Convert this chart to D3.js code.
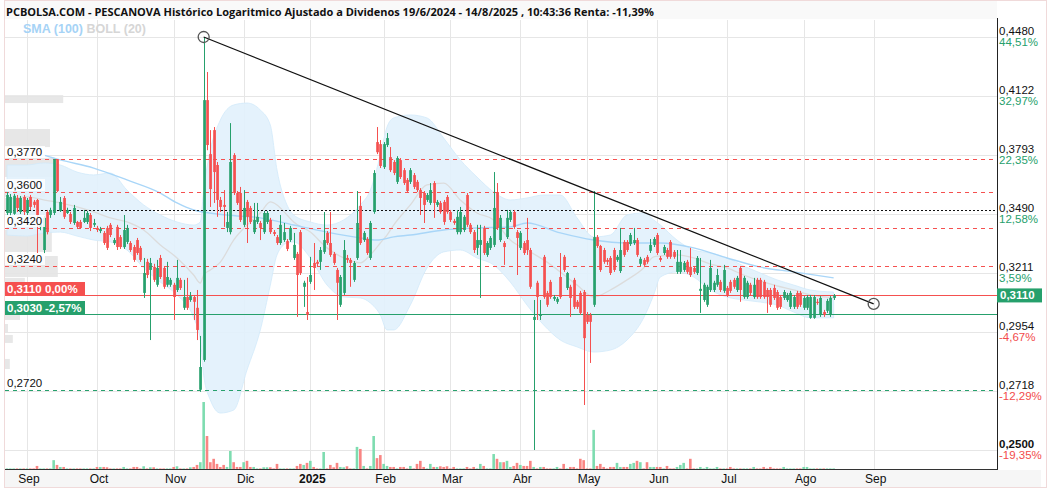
<!DOCTYPE html>
<html><head><meta charset="utf-8">
<script src="https://cdn.jsdelivr.net/npm/d3@7"></script>
<style>
body{margin:0;background:#fff;}
svg{display:block;font-family:"Liberation Sans",Arial,sans-serif;}
</style>
</head><body>
<svg id="c" width="1051" height="492"></svg>
<script>
const titleText = "PCBOLSA.COM - PESCANOVA Histórico Logaritmico Ajustado a Dividenos 19/6/2024 - 14/8/2025 , 10:43:36 Renta: -11,39%";
const firstDay = "2024-08-23";
const lastCalendarDay = "2025-11-28";
const holidays = ["2024-12-25","2024-12-26","2025-01-01","2025-04-18","2025-04-21","2025-05-01"];

// daily candles, one per trading day starting at firstDay
const open = [
.3494,.3494,.3490,.3569,.3499,.3574,.3494,.3574,.3550,.3559,
.3426,.3316,.3499,.3484,.3494,.3770,.3504,.3569,.3494,.3489,
.3445,.3450,.3450,.3450,.3450,.3484,.3436,.3421,.3406,.3397,
.3421,.3436,.3349,.3426,.3377,.3330,.3354,.3349,.3330,.3363,
.3326,.3121,.3261,.3224,.3238,.3157,.3279,.3233,.3157,.3157,
.3157,.3134,.3179,.3056,.3103,.3090,.3103,.3056,.2722,.2839,
.4098,.3797,.3928,.3739,.3559,.3534,.3421,.3401,.3792,.3594,
.3594,.3436,.3549,.3519,.3401,.3450,.3445,.3401,.3450,.3460,
.3401,.3377,.3349,.3363,.3358,.3363,.3279,.3298,.3401,.3148,
.3038,.3170,.3256,.3261,.3261,.3307,.3397,.3349,.3298,.3224,
.3069,.3121,.3279,.3270,.3179,.3279,.3529,.3363,.3368,.3279,
.3499,.3862,.3851,.3728,.3846,.3781,.3755,.3651,.3765,.3712,
.3661,.3651,.3686,.3651,.3609,.3594,.3559,.3544,.3645,.3534,
.3544,.3549,.3574,.3499,.3455,.3401,.3401,.3411,.3584,.3436,
.3401,.3326,.3340,.3421,.3293,.3326,.3340,.3599,.3363,.3349,
.3377,.3460,.3499,.3401,.3326,.3349,.3363,.3316,.3004,.3166,
.3021,.3284,.3121,.3170,.3095,.3082,.3192,.3284,.3143,.3148,
.3179,.3082,.3121,.3125,.3026,.3026,.3069,.3377,.3335,.3316,
.3270,.3279,.3316,.3270,.3219,.3354,.3354,.3344,.3349,.3363,
.3252,.3270,.3284,.3312,.3340,.3387,.3279,.3302,.3316,.3354,
.3307,.3215,.3215,.3224,.3261,.3238,.3233,.3210,.3130,.3090,
.3069,.3134,.3134,.3157,.3170,.3130,.3143,.3170,.3179,.3134,
.3233,.3103,.3103,.3157,.3103,.3179,.3179,.3170,.3134,.3134,
.3143,.3125,.3103,.3099,.3090,.3060,.3060,.3121,.3121,.3056,
.3056,.3013,.3013,.3082,.3026,.3038,.3043,.3026,.3099];
const high = [
.3599,.3589,.3590,.3584,.3579,.3584,.3569,.3584,.3559,.3564,
.3455,.3480,.3509,.3520,.3770,.3770,.3574,.3579,.3520,.3499,
.3534,.3455,.3460,.3509,.3504,.3494,.3465,.3431,.3426,.3406,
.3431,.3445,.3373,.3436,.3387,.3484,.3436,.3358,.3340,.3373,
.3335,.3279,.3275,.3279,.3252,.3270,.3293,.3242,.3261,.3188,
.3166,.3270,.3188,.3179,.3188,.3125,.3112,.3134,.2937,.4480,
.4264,.3928,.3945,.3755,.3574,.3609,.3499,.3967,.3802,.3604,
.3625,.3609,.3559,.3529,.3544,.3544,.3455,.3504,.3504,.3470,
.3411,.3387,.3484,.3445,.3368,.3431,.3397,.3307,.3411,.3175,
.3192,.3284,.3349,.3270,.3330,.3499,.3406,.3499,.3307,.3233,
.3201,.3363,.3293,.3279,.3265,.3604,.3579,.3406,.3377,.3455,
.3712,.3945,.3873,.3862,.3912,.3835,.3765,.3786,.3776,.3723,
.3671,.3723,.3697,.3661,.3619,.3604,.3594,.3645,.3655,.3559,
.3554,.3559,.3584,.3509,.3465,.3509,.3524,.3484,.3594,.3445,
.3411,.3436,.3436,.3431,.3358,.3382,.3702,.3645,.3484,.3358,
.3509,.3509,.3509,.3411,.3406,.3358,.3470,.3326,.3090,.3175,
.3090,.3293,.3130,.3179,.3112,.3103,.3302,.3293,.3215,.3157,
.3188,.3090,.3130,.3134,.3038,.3034,.3604,.3387,.3340,.3326,
.3279,.3288,.3326,.3293,.3421,.3363,.3363,.3397,.3421,.3373,
.3284,.3279,.3293,.3368,.3377,.3397,.3288,.3340,.3326,.3363,
.3316,.3316,.3316,.3265,.3270,.3326,.3242,.3288,.3279,.3166,
.3157,.3270,.3175,.3229,.3179,.3247,.3152,.3179,.3188,.3197,
.3242,.3197,.3175,.3166,.3188,.3188,.3188,.3179,.3143,.3143,
.3157,.3134,.3112,.3134,.3121,.3130,.3112,.3130,.3130,.3107,
.3112,.3112,.3112,.3095,.3107,.3047,.3095,.3107,.3116];
const low = [
.3484,.3479,.3485,.3499,.3489,.3484,.3484,.3509,.3520,.3302,
.3410,.3300,.3390,.3470,.3484,.3599,.3499,.3465,.3489,.3440,
.3436,.3416,.3416,.3445,.3440,.3406,.3426,.3401,.3396,.3340,
.3316,.3377,.3340,.3316,.3321,.3321,.3344,.3307,.3261,.3293,
.3261,.3099,.3187,.2920,.3170,.3148,.3183,.3139,.3148,.3148,
.3004,.3125,.3134,.3047,.3047,.3082,.3004,.2920,.2714,.2832,
.3818,.3524,.3544,.3475,.3499,.3426,.3401,.3390,.3584,.3534,
.3450,.3426,.3349,.3440,.3392,.3440,.3363,.3392,.3440,.3392,
.3382,.3340,.3340,.3354,.3311,.3354,.3270,.3017,.3201,.3060,
.3004,.3161,.3134,.3238,.3224,.3298,.3340,.3284,.3247,.3004,
.3060,.3112,.3256,.3148,.3170,.3270,.3340,.3354,.3293,.3270,
.3490,.3797,.3723,.3718,.3835,.3702,.3686,.3640,.3666,.3635,
.3594,.3640,.3614,.3599,.3484,.3445,.3549,.3534,.3470,.3524,
.3490,.3436,.3490,.3450,.3436,.3390,.3390,.3401,.3426,.3392,
.3302,.3293,.3099,.3293,.3284,.3316,.3330,.3411,.3354,.3247,
.3368,.3450,.3416,.3201,.3316,.3293,.3293,.3139,.2500,.3004,
.3004,.3095,.3060,.3095,.3086,.3073,.3095,.3215,.3134,.3017,
.3051,.3051,.3026,.2664,.2987,.2827,.3060,.3326,.3215,.3252,
.3247,.3201,.3215,.3261,.3210,.3284,.3307,.3335,.3340,.3284,
.3242,.3238,.3252,.3302,.3330,.3293,.3261,.3293,.3275,.3275,
.3275,.3206,.3206,.3215,.3206,.3192,.3206,.3201,.3034,.3082,
.3060,.3125,.3125,.3148,.3125,.3121,.3103,.3121,.3139,.3125,
.3082,.3095,.3095,.3112,.3095,.3095,.3095,.3095,.3034,.3060,
.3090,.3047,.3051,.3090,.3082,.3051,.3051,.3051,.3060,.3047,
.3047,.3009,.3009,.3069,.3017,.3017,.3034,.3017,.3090];
const close = [
.3584,.3574,.3580,.3519,.3569,.3499,.3559,.3524,.3534,.3484,
.3440,.3470,.3401,.3509,.3770,.3604,.3549,.3475,.3509,.3450,
.3519,.3426,.3421,.3470,.3494,.3421,.3445,.3411,.3416,.3349,
.3326,.3387,.3363,.3330,.3330,.3411,.3421,.3316,.3270,.3302,
.3270,.3210,.3201,.3256,.3179,.3233,.3192,.3148,.3192,.3179,
.3103,.3188,.3143,.3103,.3056,.3107,.3082,.2962,.2811,.4098,
.3846,.3614,.3702,.3559,.3524,.3524,.3450,.3755,.3594,.3544,
.3460,.3519,.3475,.3450,.3460,.3475,.3421,.3494,.3494,.3401,
.3392,.3349,.3436,.3401,.3321,.3421,.3340,.3201,.3210,.3166,
.3026,.3201,.3233,.3252,.3316,.3363,.3349,.3293,.3256,.3166,
.3192,.3316,.3270,.3256,.3256,.3445,.3349,.3397,.3302,.3445,
.3697,.3807,.3734,.3851,.3884,.3712,.3697,.3776,.3676,.3645,
.3604,.3712,.3625,.3609,.3569,.3534,.3584,.3609,.3544,.3549,
.3499,.3450,.3499,.3460,.3445,.3475,.3499,.3475,.3436,.3401,
.3316,.3363,.3363,.3302,.3349,.3373,.3519,.3421,.3470,.3330,
.3470,.3499,.3426,.3373,.3397,.3302,.3316,.3148,.3017,.3103,
.3026,.3103,.3069,.3103,.3103,.3095,.3103,.3224,.3210,.3099,
.3060,.3060,.3034,.2928,.2996,.2996,.3377,.3335,.3224,.3261,
.3261,.3210,.3224,.3284,.3316,.3293,.3316,.3387,.3363,.3293,
.3275,.3247,.3261,.3340,.3368,.3302,.3270,.3330,.3284,.3284,
.3284,.3261,.3261,.3256,.3215,.3201,.3215,.3279,.3139,.3157,
.3148,.3233,.3166,.3201,.3134,.3224,.3112,.3130,.3148,.3188,
.3134,.3188,.3166,.3121,.3157,.3103,.3103,.3103,.3103,.3069,
.3099,.3056,.3060,.3125,.3112,.3121,.3103,.3060,.3069,.3099,
.3103,.3103,.3103,.3077,.3099,.3026,.3086,.3099,.3110];
const volume = [
8,8,8,8,8,8,8,8,8,45,
8,8,8,8,130,60,30,30,8,8,
8,8,8,8,8,8,8,30,30,30,
25,8,8,8,8,30,8,8,30,30,
8,40,8,25,25,8,8,8,8,8,
30,40,8,8,8,25,30,60,100,985,
485,100,150,75,30,60,30,265,100,30,
30,100,120,30,30,8,8,25,25,25,
8,75,8,8,8,8,8,45,75,60,
90,120,30,8,8,250,8,60,25,90,
30,25,40,8,8,325,295,45,8,45,
485,160,205,75,45,30,30,8,30,30,
8,45,8,75,120,30,8,75,30,30,
40,30,40,8,30,8,8,8,30,8,
30,8,75,45,8,8,220,150,100,100,
120,30,45,90,60,45,45,120,30,8,
30,30,8,8,8,30,8,75,8,30,
30,8,150,130,8,8,575,45,75,30,
8,30,30,90,30,30,30,75,90,120,
100,8,100,30,30,30,30,8,45,8,
8,30,60,90,8,150,8,8,30,8,
30,8,8,30,8,8,8,30,8,8,
8,8,8,8,30,8,8,30,8,30,
8,8,8,30,8,8,8,8,8,30,
30,8,8,8,8,8,8,8,8];

// Bollinger (20) read at trading-day offsets from firstDay
const bollIdx = [0,6,11,16,21,26,31,36,41,46,51,56,58,59,61,64,68,72,76,79,81,84,86,91,96,101,106,109,112,114,116,121,126,131,136,141,146,151,156,161,166,171,176,181,186,191,194,196,201,206,211,216,221,226,231,236,241,248];
const bollUpper = [.3739,.3739,.3750,.3739,.3702,.3687,.3697,.3609,.3534,.3484,.3450,.3435,.3450,.3609,.3819,.3984,.4070,.4081,.4041,.3956,.3713,.3534,.3484,.3450,.3435,.3460,.3534,.3609,.3792,.3945,.3996,.4013,.3996,.3884,.3766,.3676,.3599,.3559,.3569,.3584,.3584,.3470,.3378,.3387,.3484,.3494,.3460,.3435,.3363,.3316,.3302,.3279,.3242,.3210,.3179,.3156,.3134,.3125];
const bollMid = [.3559,.3574,.3559,.3544,.3524,.3499,.3470,.3450,.3411,.3340,.3279,.3201,.3165,.3201,.3224,.3260,.3363,.3435,.3494,.3549,.3534,.3484,.3450,.3401,.3326,.3279,.3256,.3293,.3349,.3387,.3435,.3534,.3635,.3645,.3559,.3494,.3460,.3363,.3316,.3270,.3215,.3156,.3103,.3134,.3179,.3233,.3284,.3288,.3293,.3279,.3251,.3233,.3201,.3174,.3152,.3134,.3112,.3099];
const bollLower = [.3387,.3382,.3397,.3401,.3382,.3363,.3354,.3316,.3233,.3169,.3112,.3013,.2920,.2779,.2683,.2634,.2645,.2799,.2962,.3156,.3293,.3349,.3354,.3279,.3156,.3103,.3099,.3077,.3025,.2962,.2962,.3068,.3233,.3307,.3316,.3279,.3247,.3169,.3068,.2983,.2920,.2892,.2871,.2879,.2920,.3013,.3112,.3192,.3215,.3192,.3134,.3103,.3090,.3081,.3068,.3038,.3013,.3013];
// SMA (100)
const smaIdx = [11,16,26,36,46,51,56,66,76,86,96,106,111,116,121,131,141,151,156,166,176,186,196,206,216,226,236,248];
const smaVals = [.3792,.3766,.3723,.3661,.3594,.3544,.3509,.3484,.3470,.3435,.3401,.3373,.3363,.3378,.3387,.3411,.3421,.3426,.3445,.3397,.3363,.3349,.3349,.3326,.3279,.3237,.3215,.3188];

// volume-by-price profile (left)
const profileHi = [.4127,.3934,.3777,.3661,.3569,.3411,.3288,.3188,.3161,.3025,.2987,.2941,.2843];
const profileLo = [.4081,.3835,.3676,.3574,.3499,.3307,.3192,.3165,.3108,.3004,.2950,.2908,.2803];
const profileVol = [97,75,83,67,47,78,88,33,100,25,5,13,8];

// axis ticks
const yTicks = [0.4480,0.4122,0.3793,0.3490,0.3211,0.2954,0.2718,0.2500];
const yTickLabels = ["0,4480","0,4122","0,3793","0,3490","0,3211","0,2954","0,2718","0,2500"];
const yTickPct = ["44,51%","32,97%","22,35%","12,58%","3,59%","-4,67%","-12,29%","-19,35%"];
const monthFirst = ["2024-09-01","2024-10-01","2024-11-01","2024-12-01","2025-01-01","2025-02-01","2025-03-01","2025-04-01","2025-05-01","2025-06-01","2025-07-01","2025-08-01","2025-09-01"];
const monthLabels = ["Sep","Oct","Nov","Dic","2025","Feb","Mar","Abr","May","Jun","Jul","Ago","Sep"];

// drawn levels
const redLevels = [0.3770,0.3600,0.3420,0.3240];
const greenLevels = [0.2720];
const dottedLevel = 0.3510;
const lastPrice = 0.3110, lastPct = "0,00%";
const refPrice = 0.3030, refPct = "-2,57%";
const trendDates = ["2024-11-14","2025-09-01"];
const trendPrices = [0.4480, 0.3073];

// ---------- drawing ----------
const GREEN = "#26a06c", RED = "#f5504f";
const svg = d3.select("#c");
const L = 5, R = 997, T = 20, B = 469;

function tradingDays(start, end, hol) {
  const out = [], hs = new Set(hol);
  const e = new Date(end + "T12:00:00Z");
  for (let d = new Date(start + "T12:00:00Z"); d <= e; d.setUTCDate(d.getUTCDate() + 1)) {
    const w = d.getUTCDay(), s = d.toISOString().slice(0, 10);
    if (w === 0 || w === 6 || hs.has(s)) continue;
    out.push(s);
  }
  return out;
}
const days = tradingDays(firstDay, lastCalendarDay, holidays);
const posOf = s => days.findIndex(d => d >= s);

const x = d3.scaleLinear().domain([-0.6, 297]).range([L, R]);
const y = d3.scaleLog().domain([0.25, 0.448]).range([450, 37]);
const vh = d3.scaleLinear().domain([0, 1000]).range([0, 68]);
const ph = d3.scaleLinear().domain([0, 100]).range([0, 60]);
const fmt = v => d3.format(".4f")(v).replace(".", ",");

// frame + title bar
svg.append("rect").attr("x", 0).attr("y", 0).attr("width", 1051).attr("height", 492).attr("fill", "#fff");
svg.append("rect").attr("x", L).attr("y", 1).attr("width", R - L).attr("height", T - 2).attr("fill", "#f9f9f9");
svg.append("rect").attr("x", L).attr("y", B + 1).attr("width", 1041 - L).attr("height", 17).attr("fill", "#f6f6f6");
svg.append("rect").attr("x", 4.5).attr("y", 0.5).attr("width", 1042).attr("height", 487)
  .attr("fill", "none").attr("stroke", "#f0dada");

svg.append("defs").append("clipPath").attr("id", "clip")
  .append("rect").attr("x", L).attr("y", T).attr("width", R - L).attr("height", B - T);
const plot = svg.append("g").attr("clip-path", "url(#clip)");

// grid
const monthPos = monthFirst.map(posOf);
plot.selectAll(".vg").data(monthPos).join("line")
  .attr("x1", d => Math.round(x(d)) + 0.5).attr("x2", d => Math.round(x(d)) + 0.5)
  .attr("y1", T).attr("y2", B).attr("stroke", "#e6e6e6");
plot.selectAll(".hg").data(yTicks).join("line")
  .attr("x1", L).attr("x2", R)
  .attr("y1", d => Math.round(y(d)) + 0.5).attr("y2", d => Math.round(y(d)) + 0.5)
  .attr("stroke", "#e6e6e6");

// volume profile
plot.selectAll(".pf").data(profileVol).join("rect")
  .attr("x", L).attr("y", (d, i) => y(profileHi[i]))
  .attr("width", d => ph(d)).attr("height", (d, i) => y(profileLo[i]) - y(profileHi[i]))
  .attr("fill", "#e4e4e4").attr("opacity", 0.9);

// Bollinger band
const bandArea = d3.area().x(d => x(d[0])).y0(d => y(d[2])).y1(d => y(d[1])).curve(d3.curveMonotoneX);
const bandPts = bollIdx.map((p, i) => [p, bollUpper[i], bollLower[i], bollMid[i]]);
plot.append("path").attr("d", bandArea(bandPts)).attr("fill", "#e1f1fc").attr("fill-opacity", 0.9)
  .attr("stroke", "#d2eafa").attr("stroke-width", 0.8);
plot.append("path").attr("d", d3.line().x(d => x(d[0])).y(d => y(d[3])).curve(d3.curveMonotoneX)(bandPts))
  .attr("fill", "none").attr("stroke", "#dcdcdc").attr("stroke-width", 1.3);
// SMA
plot.append("path").attr("d", d3.line().x((d, i) => x(smaIdx[i])).y(d => y(d)).curve(d3.curveMonotoneX)(smaVals))
  .attr("fill", "none").attr("stroke", "#a9d6f8").attr("stroke-width", 1.4);

// volume bars
const idx = d3.range(close.length);
plot.selectAll(".vol").data(idx).join("rect")
  .attr("x", i => x(i) - 1.3).attr("width", 2.6)
  .attr("y", i => B - vh(volume[i])).attr("height", i => vh(volume[i]))
  .attr("fill", i => close[i] >= open[i] ? "#7edcb0" : "#f98583");

// level lines
plot.selectAll(".rl").data(redLevels).join("line")
  .attr("x1", L).attr("x2", R).attr("y1", d => Math.round(y(d)) + 0.5).attr("y2", d => Math.round(y(d)) + 0.5)
  .attr("stroke", RED).attr("stroke-dasharray", "4,4");
plot.selectAll(".gl").data(greenLevels).join("line")
  .attr("x1", L).attr("x2", R).attr("y1", d => Math.round(y(d)) + 0.5).attr("y2", d => Math.round(y(d)) + 0.5)
  .attr("stroke", GREEN).attr("stroke-dasharray", "4,4");
plot.append("line").attr("x1", L).attr("x2", R)
  .attr("y1", Math.round(y(dottedLevel)) + 0.5).attr("y2", Math.round(y(dottedLevel)) + 0.5)
  .attr("stroke", "#111").attr("stroke-dasharray", "2,2");
plot.append("line").attr("x1", L).attr("x2", R)
  .attr("y1", Math.round(y(lastPrice)) + 0.5).attr("y2", Math.round(y(lastPrice)) + 0.5).attr("stroke", RED);
plot.append("line").attr("x1", L).attr("x2", R)
  .attr("y1", Math.round(y(refPrice)) + 0.5).attr("y2", Math.round(y(refPrice)) + 0.5).attr("stroke", GREEN);

// candles
const cg = plot.append("g");
cg.selectAll(".wk").data(idx).join("line")
  .attr("x1", i => Math.round(x(i)) + 0.5).attr("x2", i => Math.round(x(i)) + 0.5)
  .attr("y1", i => y(high[i])).attr("y2", i => y(low[i]))
  .attr("stroke", i => close[i] >= open[i] ? GREEN : RED);
cg.selectAll(".bd").data(idx).join("rect")
  .attr("x", i => Math.round(x(i)) - 0.8).attr("width", 2.7)
  .attr("y", i => y(Math.max(open[i], close[i])))
  .attr("height", i => Math.max(1, Math.abs(y(open[i]) - y(close[i]))))
  .attr("fill", i => close[i] >= open[i] ? GREEN : RED);

// trend line
const tp = trendDates.map(posOf);
plot.append("line").attr("x1", x(tp[0])).attr("y1", y(trendPrices[0]))
  .attr("x2", x(tp[1])).attr("y2", y(trendPrices[1])).attr("stroke", "#111").attr("stroke-width", 1.2);
tp.forEach((p, i) => plot.append("circle").attr("cx", x(p)).attr("cy", y(trendPrices[i])).attr("r", 5.5)
  .attr("fill", "none").attr("stroke", "#555").attr("stroke-width", 1.3));

// axes lines
svg.append("line").attr("x1", R + 0.5).attr("x2", R + 0.5).attr("y1", 18).attr("y2", B + 1).attr("stroke", "#222");
svg.append("line").attr("x1", L).attr("x2", R + 1).attr("y1", B + 0.5).attr("y2", B + 0.5).attr("stroke", "#333");

// right tick labels
yTicks.forEach((v, i) => {
  const yy = y(v);
  svg.append("text").attr("x", R + 2).attr("y", yy - 2).attr("font-size", 11.5)
    .attr("font-weight", i === yTicks.length - 1 ? "bold" : "normal").attr("fill", "#111").text(yTickLabels[i]);
  svg.append("text").attr("x", R + 2).attr("y", yy + 9).attr("font-size", 11.5)
    .attr("fill", yTickPct[i].startsWith("-") ? "#f24b4b" : "#26a06c").text(yTickPct[i]);
});
// right current price box
const yl = y(lastPrice);
svg.append("rect").attr("x", R).attr("y", yl - 7).attr("width", 45).attr("height", 14).attr("fill", GREEN);
svg.append("text").attr("x", R + 3).attr("y", yl + 4).attr("font-size", 11.5).attr("font-weight", "bold")
  .attr("fill", "#fff").text(fmt(lastPrice));

// left level labels
[...redLevels, ...greenLevels].forEach(v => {
  const yy = Math.round(y(v));
  svg.append("rect").attr("x", L).attr("y", yy - 13).attr("width", 40).attr("height", 12).attr("fill", "#fff").attr("opacity", 0.85);
  svg.append("text").attr("x", 7).attr("y", yy - 3).attr("font-size", 11.5).attr("fill", "#111").text(fmt(v));
});
[[lastPrice, lastPct, RED], [refPrice, refPct, GREEN]].forEach(([v, p, c]) => {
  const yy = Math.round(y(v));
  svg.append("rect").attr("x", L).attr("y", yy - 13).attr("width", 80).attr("height", 13).attr("fill", c);
  svg.append("text").attr("x", 7).attr("y", yy - 2.5).attr("font-size", 11.5).attr("font-weight", "bold").attr("fill", "#fff").text(fmt(v));
  svg.append("text").attr("x", 45).attr("y", yy - 2.5).attr("font-size", 11.5).attr("font-weight", "bold").attr("fill", "#fff").text(p);
});

// month labels
monthPos.forEach((p, i) => {
  svg.append("text").attr("x", x(p) + 2).attr("y", 483).attr("text-anchor", "middle")
    .attr("font-size", 12).attr("font-weight", monthLabels[i] === "2025" ? "bold" : "normal")
    .attr("fill", "#111").text(monthLabels[i]);
});

// legend
const lg = svg.append("text").attr("x", 23).attr("y", 32.5).attr("font-size", 12.5).attr("font-weight", "bold");
lg.append("tspan").attr("fill", "#a6d3f6").text("SMA (100) ");
lg.append("tspan").attr("fill", "#d6d6d6").text("BOLL (20)");

// title
svg.append("text").attr("x", 6).attr("y", 15.5).attr("font-family", "'Open Sans', sans-serif")
  .attr("font-size", 11).attr("font-weight", "bold").attr("fill", "#111").text(titleText);
</script>
</body></html>
